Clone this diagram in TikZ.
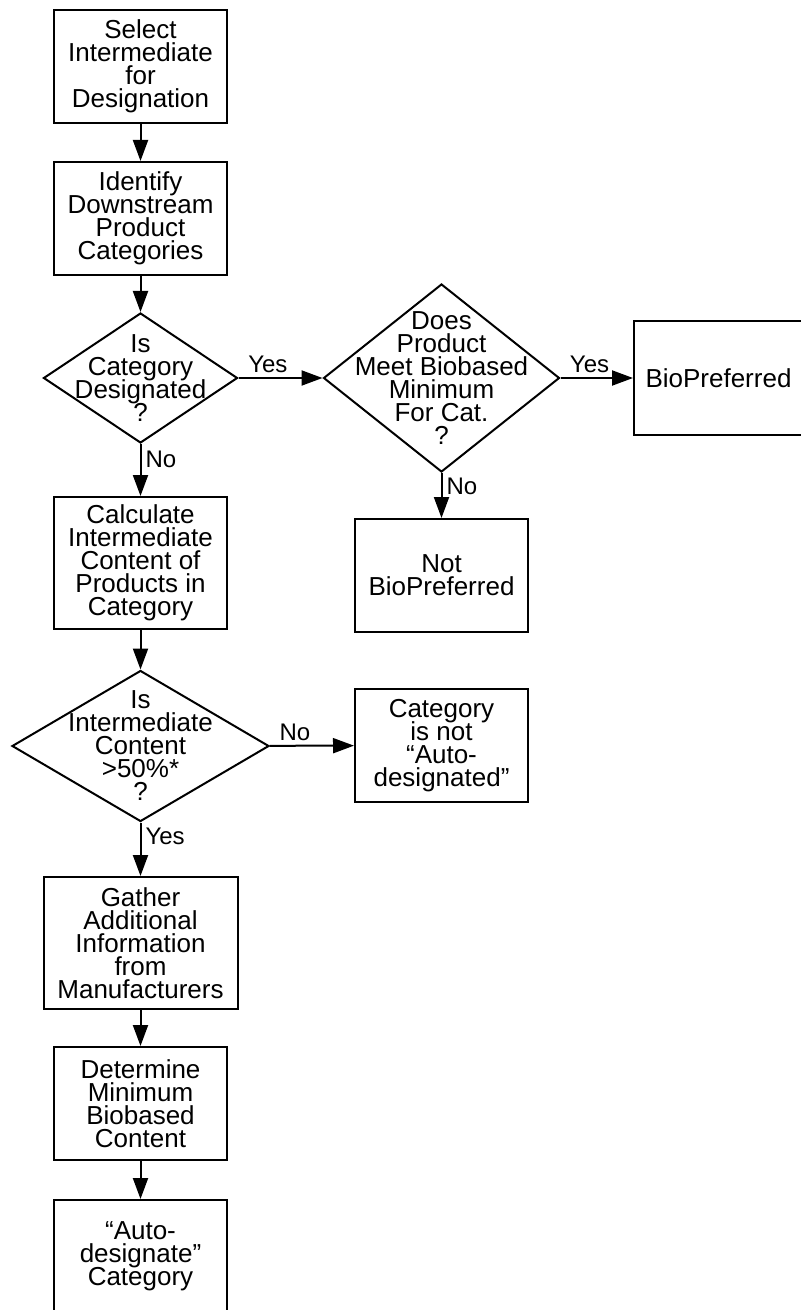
\documentclass[tikz,border=0pt]{standalone}
\usepackage{fontspec}
\setmainfont{Liberation Sans}
\usepackage{tikz}
\usetikzlibrary{arrows.meta,shapes.geometric}
\newcommand{\boxfont}{\fontsize{13}{11.5}\selectfont\lineskiplimit=-6pt}
\newcommand{\lblfont}{\fontsize{12}{12}\selectfont}

\begin{document}
\begin{tikzpicture}[->,line width=1pt,>={Triangle[length=10.5pt,width=7.5pt]},x=0.5pt,y=-0.5pt]
    \tikzstyle{box}=[draw, rectangle, minimum width=86.5pt, minimum height=56.5pt, inner sep=1pt, align=center, font=\boxfont]
    \tikzstyle{decision}=[draw, diamond, inner sep=0pt, text width=0pt]
    \tikzstyle{dtext}=[align=center, font=\boxfont, inner sep=0pt]
    \tikzstyle{lbl}=[font=\lblfont, inner sep=2pt]

    \useasboundingbox (0,0) rectangle (801,1310);

    \node[box] (select) at (140.5,66.5)  {Select\\Intermediate\\for\\Designation};
    \node[box] (identify) at (140.5,218.5) {Identify\\Downstream\\Product\\Categories};
    \node[decision, minimum width=97pt, minimum height=65pt,
          label={[dtext]center:Is\\Category\\Designated\\?}] (isdes) at (140.5,378) {};
    \node[decision, minimum width=118pt, minimum height=94pt,
          label={[dtext]center:Does\\Product\\Meet Biobased\\Minimum\\For Cat.\\?}] (meets) at (441.5,378) {};
    \node[box, minimum width=84.5pt] (bio) at (718.5,378) {BioPreferred};
    \node[box] (notbio) at (441.5,575.5) {Not\\BioPreferred};
    \node[box, minimum height=66pt] (calc) at (140.5,563) {Calculate\\Intermediate\\Content of\\Products in\\Category};
    \node[decision, minimum width=128.5pt, minimum height=75.5pt,
          label={[dtext]center:Is\\Intermediate\\Content\\>50\%*\\?}] (over) at (140.5,746) {};
    \node[box] (notauto) at (441.5,745.5) {Category\\is not\\“Auto-\\designated”};
    \node[box, minimum width=97pt, minimum height=66pt] (gather) at (140.5,943) {Gather\\Additional\\Information\\from\\Manufacturers};
    \node[box] (minimum) at (140.5,1103.5) {Determine\\Minimum\\Biobased\\Content};
    \node[box] (autodes) at (140.5,1256.5) {“Auto-\\designate”\\Category};

    \path
     (select) edge (identify)
     (identify) edge (isdes)
     (isdes) edge node[lbl, above, pos=0.35] {Yes} (meets)
     (isdes) edge node[lbl, right, pos=0.3] {No} (calc)
     (meets) edge node[lbl, above, pos=0.4] {Yes} (bio)
     (meets) edge node[lbl, right, pos=0.3] {No} (notbio)
     (calc) edge (over)
     (over) edge node[lbl, above, pos=0.3] {No} (notauto)
     (over) edge node[lbl, right, pos=0.25] {Yes} (gather)
     (gather) edge (minimum)
     (minimum) edge (autodes)
     ;
\end{tikzpicture}
\end{document}
